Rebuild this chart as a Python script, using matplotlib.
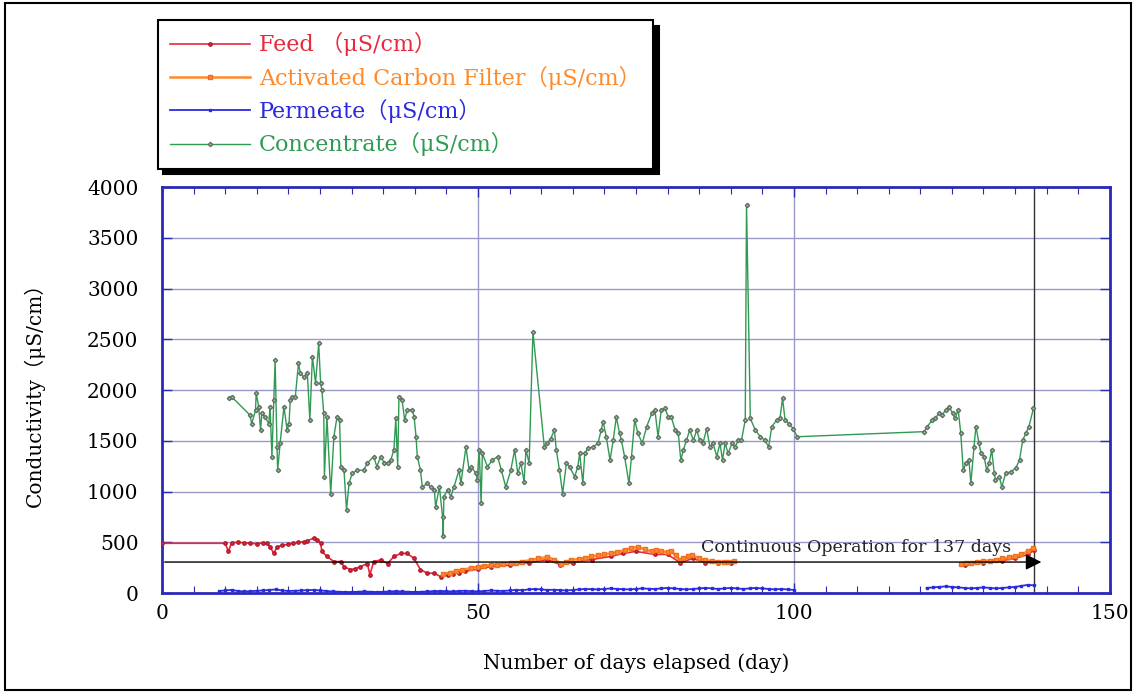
import matplotlib
matplotlib.use("Agg")
import matplotlib.pyplot as plt
from matplotlib.patches import Rectangle
import numpy as np

plt.rcParams['font.family'] = ['DejaVu Serif', 'Noto Sans CJK JP']
plt.rcParams['mathtext.fontset'] = 'dejavuserif'

# ---------------- data ----------------
conc_days = [10.6, 11.0, 13.9, 14.2, 14.8, 14.9, 15.3, 15.6, 15.8, 16.3, 16.9, 17.1, 17.4, 17.7, 17.9,
             18.2, 18.3, 18.7, 19.3, 19.8, 20.1, 20.3, 20.6, 21.1, 21.6, 21.9, 22.4, 23.0, 23.4, 23.8,
             24.3, 24.8, 25.1, 25.3, 25.6, 25.7, 26.1, 26.7, 27.2, 27.7, 28.1, 28.3, 28.8, 29.2, 29.6,
             30.1, 30.9, 31.9, 32.5, 33.5, 34.0, 34.6, 35.2, 35.7, 36.2, 36.7, 37.0, 37.3, 37.5, 38.0,
             38.4, 38.8, 39.6, 39.9, 40.2, 40.4, 40.9, 41.2, 42.0, 42.5, 43.1, 43.3, 43.9, 44.4, 44.5,
             44.6, 45.2, 45.7, 46.2, 47.0, 47.3, 48.1, 48.6, 48.9, 49.7, 49.9, 50.2, 50.5, 50.7, 51.5,
             52.3, 53.1, 53.7, 54.4, 55.2, 55.8, 56.3, 56.8, 57.3, 57.6, 58.1, 58.7, 60.5, 61.0, 61.5,
             62.1, 62.4, 62.9, 63.4, 64.0, 64.5, 65.3, 65.8, 66.1, 66.6, 66.9, 67.4, 68.2, 69.0, 69.5,
             69.8, 70.3, 70.9, 71.4, 71.9, 72.4, 72.7, 73.2, 73.9, 74.3, 74.8, 75.3, 76.0, 76.7, 77.5,
             78.0, 78.5, 79.0, 79.6, 80.1, 80.6, 81.2, 81.7, 82.1, 82.5, 83.0, 83.5, 84.1, 84.6, 85.1,
             85.6, 86.2, 86.7, 87.2, 87.8, 88.3, 88.7, 89.1, 89.6, 90.2, 90.7, 91.2, 91.7, 92.3, 92.5,
             93.1, 93.9, 94.7, 95.4, 96.0, 96.5, 97.3, 97.8, 98.2, 98.6, 99.2, 99.9, 100.5,
             120.6, 121.1, 121.9, 122.4, 122.9, 123.5, 124.0, 124.6, 125.1, 125.5, 126.0, 126.4, 126.8,
             127.2, 127.7, 128.0, 128.5, 128.8, 129.3, 129.6, 130.1, 130.5, 130.9, 131.3, 131.7, 131.9,
             132.5, 132.9, 133.5, 134.3, 135.1, 135.7, 136.2, 136.7, 137.2, 137.9]
conc_vals = [1920, 1935, 1755, 1670, 1800, 1970, 1835, 1605, 1770, 1735, 1670, 1835, 1345, 1900, 2295,
             1440, 1210, 1480, 1835, 1605, 1670, 1900, 1930, 1935, 2265, 2165, 2130, 2165, 1705, 2330,
             2070, 2460, 2065, 2000, 1770, 1145, 1735, 980, 1540, 1735, 1705, 1245, 1210, 820, 1080,
             1180, 1210, 1210, 1280, 1345, 1245, 1345, 1280, 1280, 1310, 1410, 1720, 1245, 1935, 1900,
             1705, 1805, 1805, 1735, 1540, 1345, 1210, 1045, 1080, 1045, 1015, 850, 1045, 750, 560,
             950, 1015, 950, 1045, 1210, 1080, 1440, 1210, 1245, 1180, 1115, 1410, 885, 1375, 1245,
             1310, 1345, 1210, 1045, 1210, 1410, 1180, 1280, 1095, 1410, 1280, 2575, 1440, 1475, 1520,
             1605, 1410, 1210, 980, 1280, 1245, 1145, 1245, 1375, 1080, 1375, 1425, 1440, 1475, 1605,
             1690, 1540, 1310, 1505, 1735, 1575, 1505, 1345, 1080, 1345, 1705, 1575, 1475, 1640, 1770,
             1805, 1540, 1805, 1820, 1735, 1735, 1605, 1575, 1310, 1410, 1505, 1605, 1505, 1605, 1505,
             1475, 1620, 1440, 1475, 1345, 1475, 1310, 1475, 1375, 1475, 1440, 1505, 1505, 1705, 3820,
             1720, 1605, 1540, 1505, 1440, 1640, 1705, 1720, 1920, 1705, 1670, 1620, 1540,
             1590, 1640, 1705, 1720, 1770, 1755, 1805, 1835, 1770, 1720, 1805, 1575, 1210,
             1280, 1310, 1080, 1440, 1640, 1475, 1375, 1345, 1210, 1280, 1410, 1180, 1115,
             1145, 1045, 1180, 1195, 1230, 1310, 1505, 1575, 1640, 1820]

feed_days = [0.0, 10.0, 10.5, 11.0, 12.0, 13.0, 14.0, 15.0, 16.0, 16.6, 17.1, 17.7, 18.2, 19.0, 20.0,
             20.8, 21.5, 22.4, 23.0, 24.0, 24.5, 25.1, 25.3, 26.1, 27.2, 28.3, 28.8, 29.8, 30.6, 31.4,
             32.5, 32.9, 33.5, 34.6, 35.7, 36.7, 37.8, 38.8, 39.9, 40.9, 42.0, 43.1, 44.1, 45.2, 46.0,
             47.0, 48.0, 50.0, 52.0, 55.0, 58.0, 61.0, 63.0, 65.0, 68.0, 71.0, 73.0, 75.0, 78.0, 80.0,
             82.0, 84.0, 86.0, 88.0, 90.0, 127.0, 130.0, 133.0, 135.0, 137.0, 138.0]
feed_vals = [490, 490, 410, 495, 500, 495, 490, 485, 495, 490, 455, 390, 455, 470, 480,
             490, 500, 505, 515, 540, 525, 490, 410, 360, 310, 310, 260, 230, 240, 260,
             290, 180, 310, 325, 290, 360, 390, 390, 340, 230, 195, 195, 160, 175, 190,
             200, 215, 235, 260, 275, 300, 330, 280, 300, 330, 360, 390, 410, 380, 380,
             300, 340, 300, 300, 300, 280, 300, 320, 340, 380, 420]

acf_days = [44.5, 45.5, 46.5, 47.5, 48.9, 50.0, 51.0, 52.0, 53.0, 54.0, 55.2, 56.0, 57.0, 58.4, 59.5,
            61.0, 62.0, 63.2, 64.0, 64.8, 66.0, 67.0, 67.9, 69.0, 70.0, 71.1, 72.0, 73.2, 74.2, 75.3,
            76.4, 77.5, 78.2, 79.0, 80.0, 80.6, 81.3, 81.9, 82.5, 83.2, 83.8, 85.0, 85.9, 87.0, 88.0,
            89.0, 89.6, 90.5, 126.5, 127.2, 128.0, 129.0, 130.0, 131.0, 132.0, 133.0, 134.0, 135.0,
            136.0, 137.0, 137.8]
acf_vals = [190, 200, 215, 230, 245, 260, 270, 275, 280, 290, 295, 300, 310, 325, 340,
            355, 330, 290, 310, 325, 335, 345, 360, 370, 380, 390, 400, 425, 440, 455,
            430, 410, 420, 410, 405, 410, 370, 325, 340, 360, 375, 345, 325, 315, 310,
            305, 310, 315, 290, 295, 300, 310, 315, 320, 330, 340, 350, 365,
            380, 410, 440]

perm_days = list(range(9, 101)) + list(range(121, 139))
perm_vals = [20, 25, 30, 20, 15, 18, 22, 25, 30, 35, 25, 20, 22, 25, 28, 30, 25, 20, 15, 12,
             10, 10, 12, 15, 12, 10, 12, 15, 18, 15, 12, 10, 12, 15, 18, 20, 18, 15, 20, 22,
             18, 15, 20, 25, 22, 20, 25, 30, 28, 35, 40, 35, 30, 32, 28, 25, 30, 35, 40, 38,
             35, 40, 45, 40, 38, 35, 40, 45, 42, 40, 45, 50, 45, 40, 35, 40, 45, 50, 45, 40,
             45, 50, 45, 40, 45, 50, 45, 40, 35, 40, 35, 30,
             50, 55, 60, 65, 60, 55, 50, 45, 50, 55, 50, 45, 50, 55, 60, 70, 80, 75]

x_ticks = [0, 50, 100, 150]
y_ticks = [0, 500, 1000, 1500, 2000, 2500, 3000, 3500, 4000]


def split_gaps(days, vals, gap):
    """Break a series into segments wherever the day gap exceeds `gap`."""
    d = np.asarray(days, float)
    v = np.asarray(vals, float)
    cuts = np.where(np.diff(d) > gap)[0] + 1
    return list(zip(np.split(d, cuts), np.split(v, cuts)))


# ---------------- figure ----------------
fig = plt.figure(figsize=(11.36, 6.93), dpi=100)
ax = fig.add_axes([0.1426, 0.1443, 0.8344, 0.5857])

frame_blue = '#2a2ab8'
grid_col = '#9a9ac8'

for y in y_ticks[1:-1]:
    ax.axhline(y, color=grid_col, lw=1.0, zorder=1)
for x in [50, 100]:
    ax.axvline(x, color=grid_col, lw=1.0, zorder=1)
ax.axvline(138, color='#333333', lw=1.0, zorder=1)

c_feed = '#e8283c'
c_acf = '#ff8a2a'
c_perm = '#2a2ae0'
c_conc = '#2f9a52'

h_perm = h_feed = h_acf = None
for d, v in split_gaps(perm_days, perm_vals, 15):
    ln, = ax.plot(d, v, color=c_perm, lw=1.3, marker='s', ms=2, mec=c_perm, zorder=3)
    h_perm = h_perm or ln
for d, v in split_gaps(feed_days, feed_vals, 15):
    ln, = ax.plot(d, v, color=c_feed, lw=1.2, marker='o', ms=2.4, mec='#b01828', zorder=4)
    h_feed = h_feed or ln
for d, v in split_gaps(acf_days, acf_vals, 15):
    ln, = ax.plot(d, v, color=c_acf, lw=1.8, marker='s', ms=2.6, mec='#f07020', zorder=5)
    h_acf = h_acf or ln
h_conc, = ax.plot(conc_days, conc_vals, color=c_conc, lw=1.0, marker='D', ms=2.2, mec='#607060',
                  mfc='#9ec0a0', zorder=3)

ax.annotate('', xy=(139.6, 305), xytext=(0, 305),
            arrowprops=dict(arrowstyle='-|>', color='black', lw=1.0, mutation_scale=24),
            zorder=6)
ax.text(85.3, 448, 'Continuous Operation for 137 days', fontsize=12.5, ha='left', va='center',
        color='#222222', zorder=7)

ax.set_xlim(0, 150)
ax.set_ylim(0, 4000)
ax.set_xticks(x_ticks)
ax.set_yticks(y_ticks)
ax.set_xticks(range(0, 151, 5), minor=True)
ax.tick_params(axis='both', which='both', direction='in', top=True, right=True,
               colors=frame_blue, labelcolor='black', labelsize=14.5)
ax.tick_params(axis='both', which='major', length=7, width=1)
ax.tick_params(axis='x', which='minor', length=5, width=0.8)
ax.tick_params(axis='x', which='major', pad=8)
ax.tick_params(axis='y', which='major', pad=17)
for s in ax.spines.values():
    s.set_color(frame_blue)
    s.set_linewidth(2.0)

ax.set_xlabel('Number of days elapsed (day)', fontsize=14.5, labelpad=22)
ax.set_ylabel('Conductivity（μS/cm）', fontsize=14.5, labelpad=30)

# legend
leg = fig.legend([h_feed, h_acf, h_perm, h_conc],
                 ['Feed （μS/cm）', 'Activated Carbon Filter（μS/cm）',
                  'Permeate（μS/cm）', 'Concentrate（μS/cm）'],
                 loc='upper left', bbox_to_anchor=(0.139, 0.971), fontsize=16,
                 frameon=True, fancybox=False,
                 shadow={'color': 'black', 'alpha': 1.0, 'ox': 4, 'oy': -4},
                 handlelength=3.6, labelspacing=0.42, borderpad=0.55, handletextpad=0.4,
                 borderaxespad=0.0)
leg.get_frame().set_edgecolor('black')
leg.get_frame().set_linewidth(1.5)
for t, c in zip(leg.get_texts(), [c_feed, c_acf, c_perm, c_conc]):
    t.set_color(c)

fig.patches.append(Rectangle((0.004, 0.004), 0.992, 0.992, transform=fig.transFigure,
                             fill=False, edgecolor='black', lw=1.5))

fig.savefig('out.png', dpi=100)
